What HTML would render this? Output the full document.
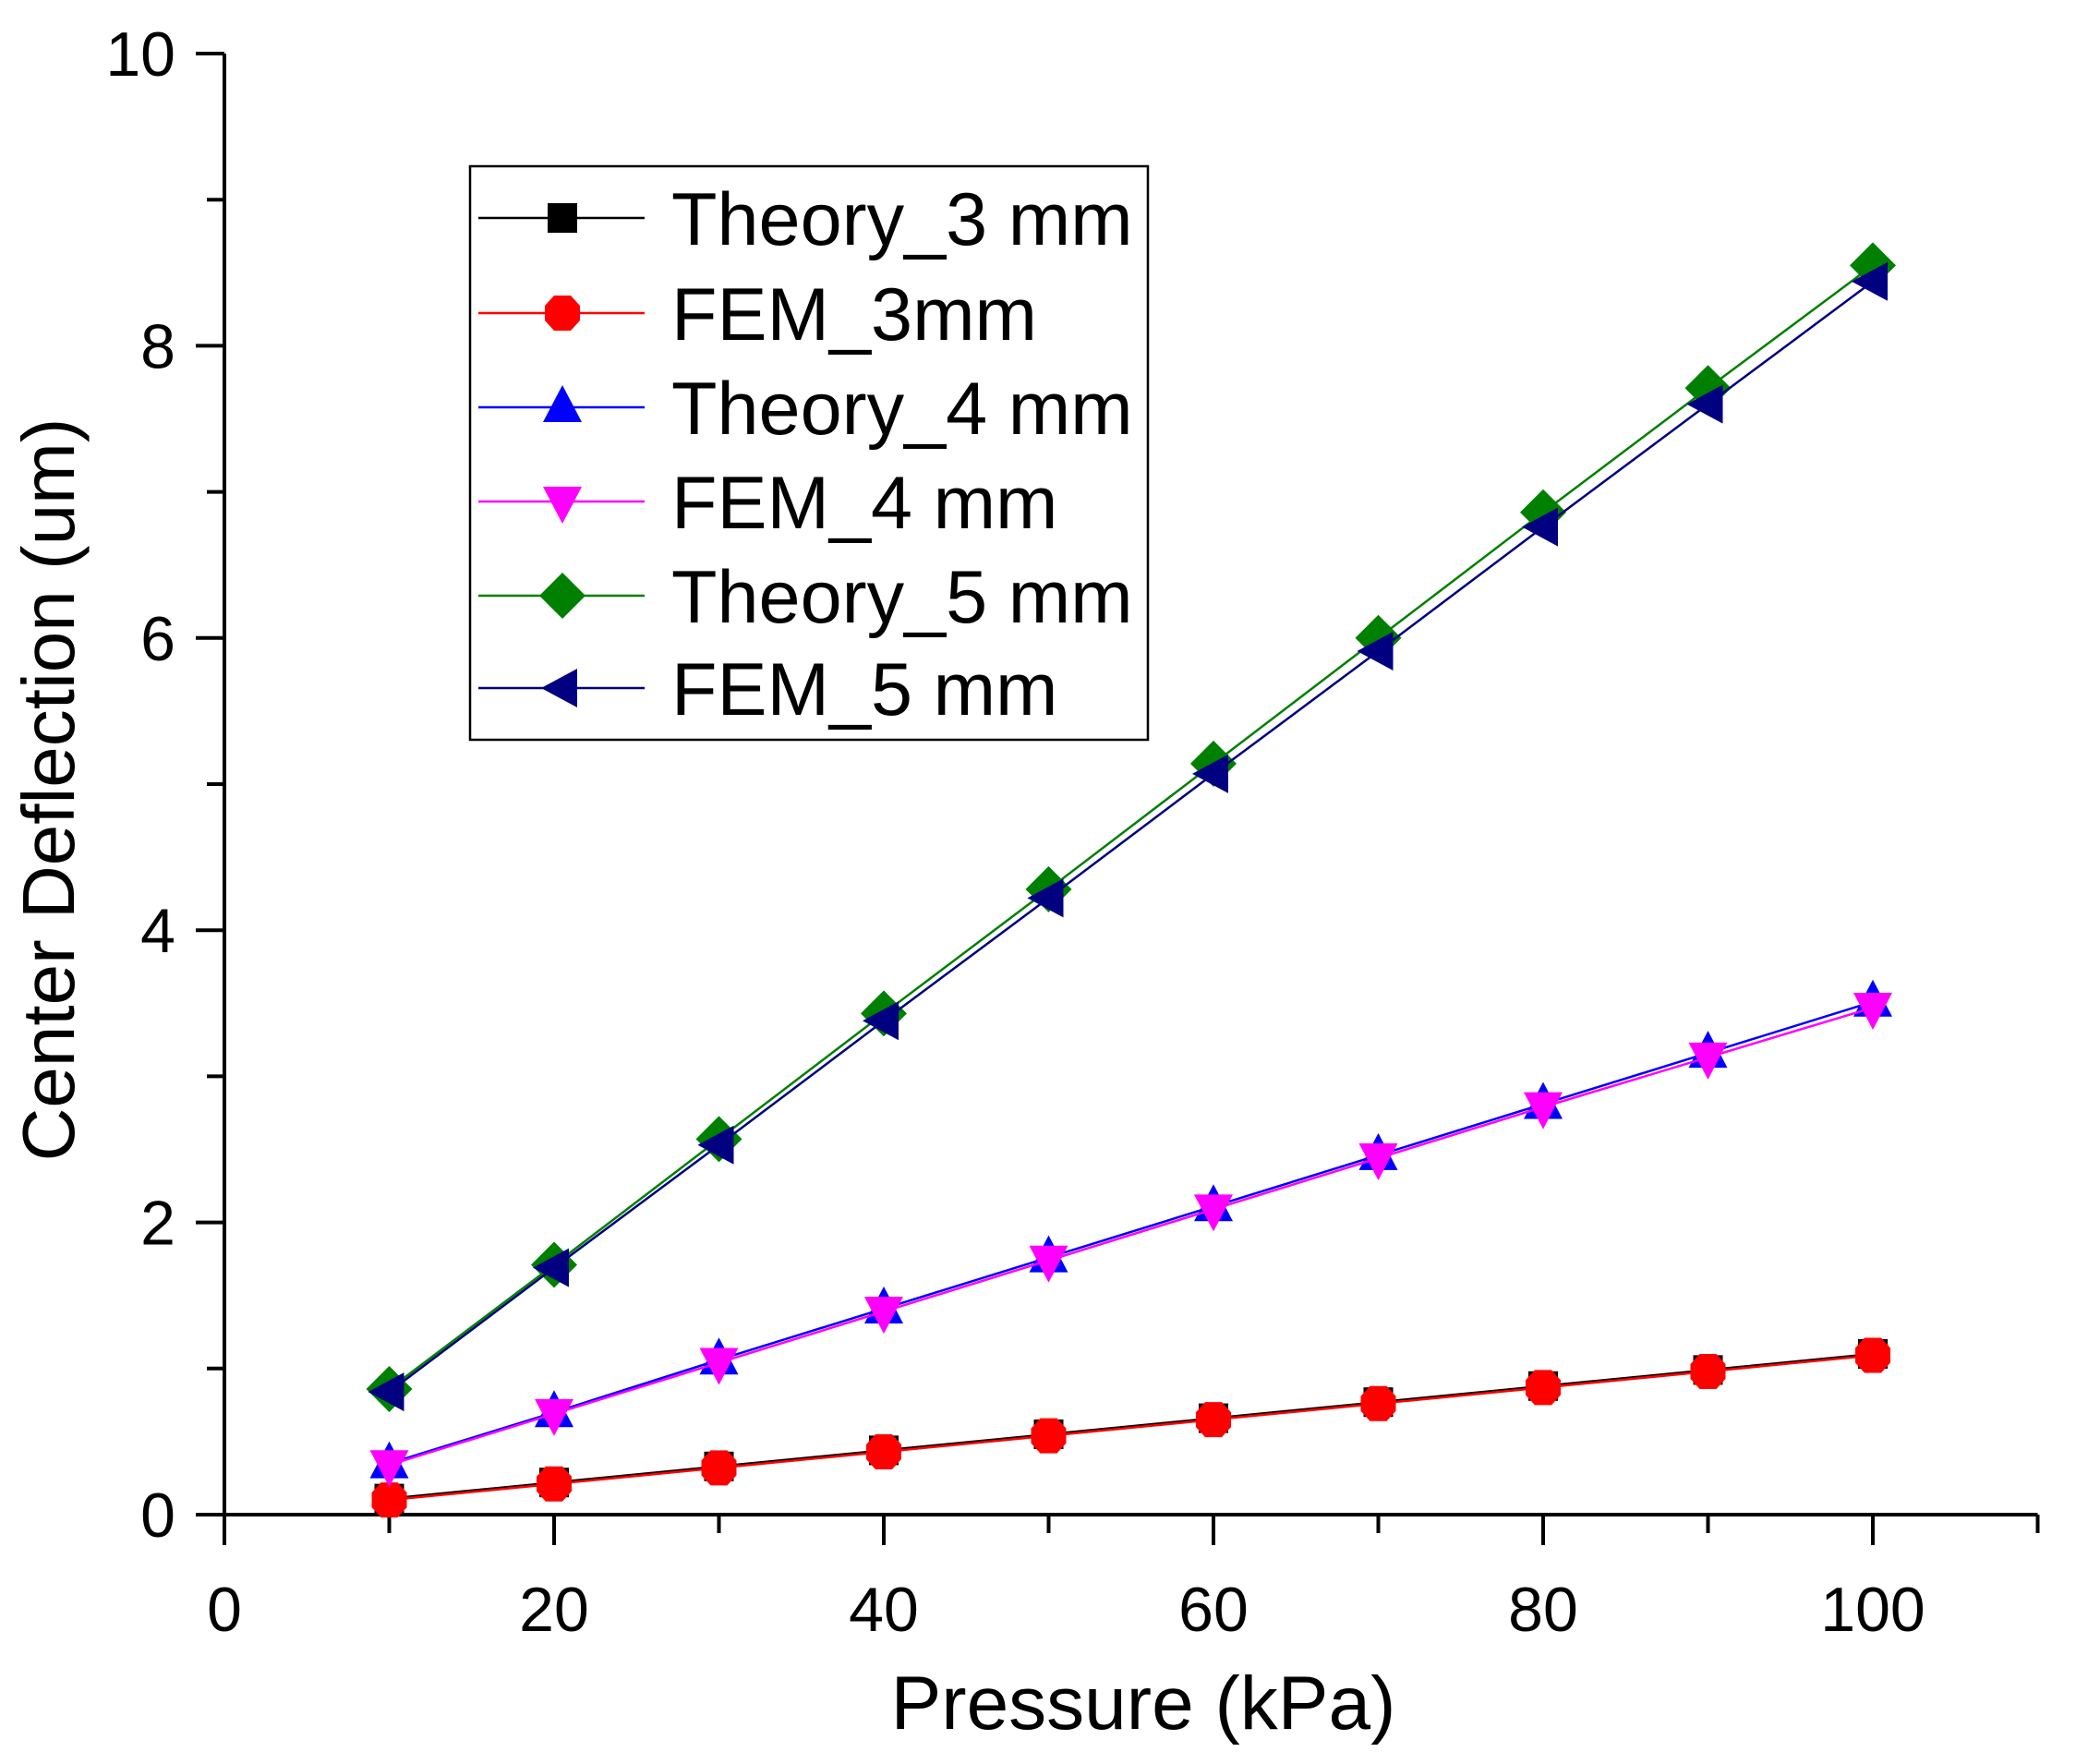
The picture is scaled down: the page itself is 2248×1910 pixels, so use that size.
<!DOCTYPE html>
<html><head><meta charset="utf-8"><style>
html,body{margin:0;padding:0;background:#fff}
svg{display:block}
text{font-family:"Liberation Sans",sans-serif;fill:#000}
</style></head><body>
<svg id="chart" width="2248" height="1910" viewBox="0 0 2248 1910" xmlns="http://www.w3.org/2000/svg">
<g id="axes"></g>
<g id="series"></g>
<g id="legend"></g>
<text x="1238" y="1872" font-size="82" text-anchor="middle">Pressure (kPa)</text>
<text transform="translate(80,855) rotate(-90)" font-size="80" text-anchor="middle">Center Deflection (um)</text>
</svg>
<script>
const pressure = [10,20,30,40,50,60,70,80,90,100];
const theory3 = [0.11,0.22,0.33,0.44,0.55,0.66,0.77,0.88,0.99,1.10];
const fem3 = [0.10,0.21,0.32,0.43,0.54,0.65,0.76,0.87,0.98,1.09];
const theory4 = [0.35,0.70,1.06,1.41,1.76,2.11,2.46,2.81,3.16,3.51];
const fem4 = [0.34,0.69,1.04,1.39,1.74,2.09,2.44,2.79,3.13,3.47];
const theory5 = [0.86,1.71,2.57,3.43,4.28,5.14,6.00,6.86,7.71,8.55];
const fem5 = [0.84,1.69,2.53,3.38,4.22,5.07,5.91,6.76,7.60,8.44];
const xTicks = [0,20,40,60,80,100];
const yTicks = [0,2,4,6,8,10];
const seriesNames = ["Theory_3 mm","FEM_3mm","Theory_4 mm","FEM_4 mm","Theory_5 mm","FEM_5 mm"];

const NS="http://www.w3.org/2000/svg";
const X0=243, XS=17.85, Y0=1640, YS=158.2;
function sx(v){return X0+v*XS;}
function sy(v){return Y0-v*YS;}
function mk(tag,attrs,parent){const e=document.createElementNS(NS,tag);for(const k in attrs)e.setAttribute(k,attrs[k]);parent.appendChild(e);return e;}

const axes=document.getElementById('axes');
let el;
el=mk('line',{x1:sx(0),y1:sy(0),x2:sx(110),y2:sy(0),stroke:'#000','stroke-width':4},axes);


el=mk('line',{x1:sx(0),y1:sy(0)+2,x2:sx(0),y2:sy(10),stroke:'#000','stroke-width':4},axes);


for(let v=0;v<=110;v+=10){
  const major=v%20===0;
  el=mk('line',{x1:sx(v),y1:sy(0),x2:sx(v),y2:sy(0)+(major?33:20),stroke:'#000','stroke-width':4},axes);
  
  
}
for(let v=0;v<=10;v+=1){
  const major=v%2===0;
  el=mk('line',{x1:sx(0),y1:sy(v),x2:sx(0)-(major?31:19),y2:sy(v),stroke:'#000','stroke-width':4},axes);
  
  
}
xTicks.forEach(v=>{
  const t=mk('text',{x:sx(v),y:1766,'font-size':68,'text-anchor':'middle'},axes);
  t.textContent=v;
  
  
});
yTicks.forEach(v=>{
  const t=mk('text',{x:190,y:sy(v)+24,'font-size':68,'text-anchor':'end'},axes);
  t.textContent=v;
  
  
});

function marker(type,cx,cy,color,parent){
  const r=19;let e;
  if(type==='square') e=mk('rect',{x:cx-r+3,y:cy-r+3,width:2*r-6,height:2*r-6,fill:color},parent);
  else if(type==='circle') e=mk('polygon',{points:[[cx-r,cy-8],[cx-9,cy-r],[cx+9,cy-r],[cx+r,cy-8],[cx+r,cy+8],[cx+9,cy+r],[cx-9,cy+r],[cx-r,cy+8]].map(p=>p.join(',')).join(' '),fill:color},parent);
  else if(type==='up') e=mk('polygon',{points:`${cx},${cy-24} ${cx+21},${cy+16} ${cx-21},${cy+16}`,fill:color},parent);
  else if(type==='down') e=mk('polygon',{points:`${cx},${cy+24} ${cx+21},${cy-16} ${cx-21},${cy-16}`,fill:color},parent);
  else if(type==='diamond') e=mk('polygon',{points:`${cx},${cy-25} ${cx+25},${cy} ${cx},${cy+25} ${cx-25},${cy}`,fill:color},parent);
  else e=mk('polygon',{points:`${cx-23},${cy} ${cx+16},${cy-21} ${cx+16},${cy+21}`,fill:color},parent);
  return e;
}

const seriesDefs=[
  {data:theory3,color:'#000000',m:'square',name:'theory-3mm'},
  {data:fem3,color:'#ff0000',m:'circle',name:'fem-3mm'},
  {data:theory4,color:'#0000ff',m:'up',name:'theory-4mm'},
  {data:fem4,color:'#ff00ff',m:'down',name:'fem-4mm'},
  {data:theory5,color:'#008000',m:'diamond',name:'theory-5mm'},
  {data:fem5,color:'#000080',m:'left',name:'fem-5mm'}
];
const sg=document.getElementById('series');
seriesDefs.forEach(s=>{
  const g=mk('g',{},sg);
  
  
  const ln=mk('polyline',{points:pressure.map((p,i)=>sx(p)+','+sy(s.data[i])).join(' '),fill:'none',stroke:s.color,'stroke-width':2.5},g);
  
  
  pressure.forEach((p,i)=>{
    const m=marker(s.m,sx(p),sy(s.data[i]),s.color,g);
    
    
  });
});

const lg=document.getElementById('legend');
el=mk('rect',{x:509,y:180,width:734,height:621,fill:'#fff',stroke:'#000','stroke-width':2.5},lg);


const rowsY=[236,339,441,543,645,745];
seriesDefs.forEach((s,i)=>{
  const g=mk('g',{},lg);
  
  
  const y=rowsY[i];
  mk('line',{x1:518,y1:y,x2:698,y2:y,stroke:s.color,'stroke-width':2.5},g);
  marker(s.m,609,y,s.color,g);
  const t=mk('text',{x:727,y:y+29,'font-size':81},g);
  t.textContent=seriesNames[i];
});
</script>
</body></html>
